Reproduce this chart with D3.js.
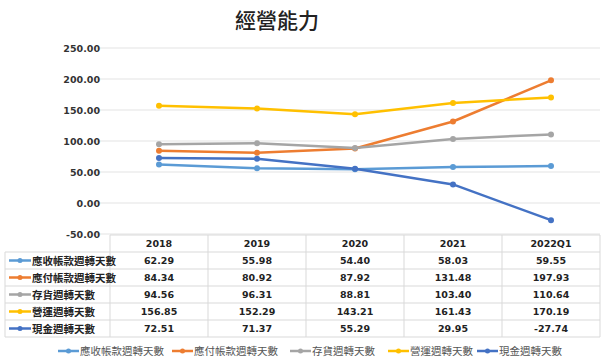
<!DOCTYPE html>
<html>
<head>
<meta charset="utf-8">
<script src="https://cdn.jsdelivr.net/npm/d3@7"></script>
<style>
  body { margin: 0; background: #fff; }
  svg { display: block; }
</style>
</head>
<body>
<svg id="chart" width="608" height="361"></svg>
<script>
// Data
var years = ["2018", "2019", "2020", "2021", "2022Q1"];
var seriesNames = ["應收帳款週轉天數", "應付帳款週轉天數", "存貨週轉天數", "營運週轉天數", "現金週轉天數"];
var arDays = [62.29, 55.98, 54.40, 58.03, 59.55];
var apDays = [84.34, 80.92, 87.92, 131.48, 197.93];
var invDays = [94.56, 96.31, 88.81, 103.40, 110.64];
var opDays = [156.85, 152.29, 143.21, 161.43, 170.19];
var cashDays = [72.51, 71.37, 55.29, 29.95, -27.74];
var yTicks = [-50, 0, 50, 100, 150, 200, 250];
var colors = ["#5b9bd5", "#ed7d31", "#a5a5a5", "#ffc000", "#4472c4"];

var series = [arDays, apDays, invDays, opDays, cashDays].map(function(v, i) {
  return { name: seriesNames[i], values: v, color: colors[i] };
});

function fmt(d) { return d.toFixed(2); } // plain hyphen for negatives

// Layout
var svg = d3.select("#chart");
var tableLeft = 5, plotLeft = 110, plotRight = 600;
var plotTop = 48, plotBottom = 234;
var rowH = 17, headerTop = 235;
var numFont = "DejaVu Sans, sans-serif";
var cjkFont = "'Noto Sans CJK TC', sans-serif";

var xScale = d3.scaleBand().domain(years).range([plotLeft, plotRight]);
var yScale = d3.scaleLinear().domain([-50, 250]).range([plotBottom, plotTop]);

// Title
svg.append("text")
   .attr("x", 277).attr("y", 28)
   .attr("text-anchor", "middle")
   .style("font-family", cjkFont)
   .style("font-size", "21px")
   .style("font-weight", "500")
   .attr("fill", "#222")
   .text("經營能力");

// Grid
svg.selectAll(".grid")
   .data(yTicks)
   .enter()
   .append("line")
   .attr("x1", 95).attr("x2", plotRight)
   .attr("y1", function(d) { return yScale(d); })
   .attr("y2", function(d) { return yScale(d); })
   .attr("stroke", "#e3e3e3").attr("stroke-width", 1);

// Y axis labels
svg.selectAll(".ylab")
   .data(yTicks)
   .enter()
   .append("text")
   .attr("x", 100)
   .attr("y", function(d) { return yScale(d) + 3.5; })
   .attr("text-anchor", "end")
   .style("font-family", numFont)
   .style("font-size", "9.5px")
   .style("font-weight", "bold")
   .attr("fill", "#333")
   .text(fmt);

// Lines
var line = d3.line()
  .x(function(d, i) { return xScale(years[i]) + xScale.bandwidth() / 2; })
  .y(function(d) { return yScale(d); });

series.forEach(function(s) {
  svg.append("path")
     .datum(s.values)
     .attr("d", line)
     .attr("fill", "none")
     .attr("stroke", s.color)
     .attr("stroke-width", 2.5)
     .attr("stroke-linejoin", "round");
  svg.selectAll(null)
     .data(s.values)
     .enter()
     .append("circle")
     .attr("cx", function(d, i) { return xScale(years[i]) + xScale.bandwidth() / 2; })
     .attr("cy", function(d) { return yScale(d); })
     .attr("r", 3)
     .attr("fill", s.color);
});

// Data table
var tableBottom = headerTop + rowH * (series.length + 1);
var tableStroke = "#d9d9d9";
// horizontal lines
svg.append("line").attr("x1", plotLeft).attr("x2", plotRight)
   .attr("y1", headerTop).attr("y2", headerTop).attr("stroke", tableStroke);
for (var r = 1; r <= series.length + 1; r++) {
  svg.append("line").attr("x1", tableLeft).attr("x2", plotRight)
     .attr("y1", headerTop + r * rowH).attr("y2", headerTop + r * rowH)
     .attr("stroke", tableStroke);
}
// vertical lines
svg.append("line").attr("x1", tableLeft).attr("x2", tableLeft)
   .attr("y1", headerTop + rowH).attr("y2", tableBottom).attr("stroke", tableStroke);
years.forEach(function(y) {
  svg.append("line").attr("x1", xScale(y)).attr("x2", xScale(y))
     .attr("y1", headerTop).attr("y2", tableBottom).attr("stroke", tableStroke);
});
svg.append("line").attr("x1", plotRight).attr("x2", plotRight)
   .attr("y1", headerTop).attr("y2", tableBottom).attr("stroke", tableStroke);

// header
svg.selectAll(".hdr")
   .data(years)
   .enter()
   .append("text")
   .attr("x", function(d) { return xScale(d) + xScale.bandwidth() / 2; })
   .attr("y", headerTop + rowH / 2 + 3.5)
   .attr("text-anchor", "middle")
   .style("font-family", numFont)
   .style("font-size", "9.5px")
   .style("font-weight", "bold")
   .attr("fill", "#222")
   .text(function(d) { return d; });

// rows
series.forEach(function(s, i) {
  var cy = headerTop + rowH * (i + 1) + rowH / 2;
  svg.append("line").attr("x1", 9).attr("x2", 31)
     .attr("y1", cy).attr("y2", cy)
     .attr("stroke", s.color).attr("stroke-width", 2.5);
  svg.append("circle").attr("cx", 20).attr("cy", cy).attr("r", 2.5).attr("fill", s.color);
  svg.append("text")
     .attr("x", 32).attr("y", cy + 4)
     .style("font-family", cjkFont)
     .style("font-size", "10.5px")
     .style("font-weight", "bold")
     .attr("fill", "#222")
     .text(s.name);
  svg.selectAll(null)
     .data(s.values)
     .enter()
     .append("text")
     .attr("x", function(d, j) { return xScale(years[j]) + xScale.bandwidth() / 2; })
     .attr("y", cy + 3.5)
     .attr("text-anchor", "middle")
     .style("font-family", numFont)
     .style("font-size", "9.5px")
     .style("font-weight", "bold")
     .attr("fill", "#222")
     .text(fmt);
});

// Legend
var legendX = [58, 172, 290, 388, 477];
series.forEach(function(s, i) {
  var g = svg.append("g").attr("transform", "translate(" + legendX[i] + ",351)");
  g.append("line").attr("x1", 0).attr("x2", 21).attr("y1", 0).attr("y2", 0)
   .attr("stroke", s.color).attr("stroke-width", 2.5);
  g.append("circle").attr("cx", 10.5).attr("cy", 0).attr("r", 2.5).attr("fill", s.color);
  g.append("text").attr("x", 22).attr("y", 4)
   .style("font-family", cjkFont)
   .style("font-size", "10.5px")
   .attr("fill", "#555")
   .text(s.name);
});
</script>
</body>
</html>
